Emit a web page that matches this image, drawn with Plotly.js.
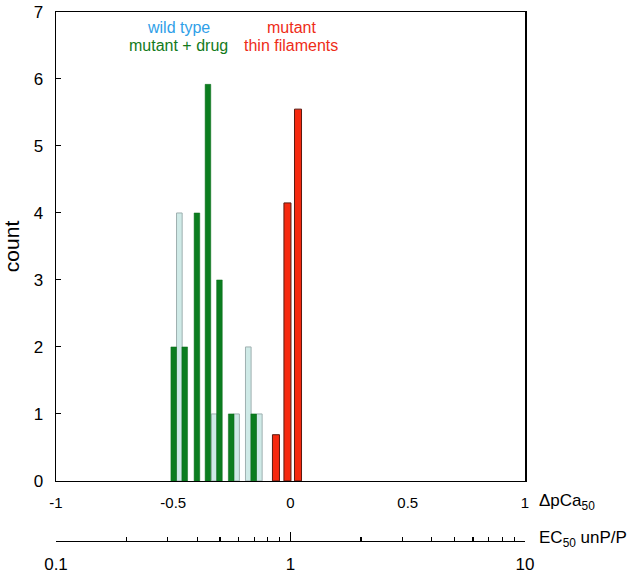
<!DOCTYPE html>
<html><head><meta charset="utf-8">
<script src="https://cdn.plot.ly/plotly-3.0.1.min.js"></script>
<style>html,body{margin:0;padding:0;background:#fff}</style>
</head><body>
<div id="chart" style="width:630px;height:581px"></div>
<script>
// Data
const greenX = [-0.498, -0.451, -0.399, -0.352, -0.303, -0.253, -0.157];
const greenY = [2, 2, 4, 5.92, 3, 1, 1];
const lightX = [-0.474, -0.326, -0.230, -0.180, -0.133];
const lightY = [4, 1, 1, 2, 1];
const redX = [-0.062, -0.013, 0.032];
const redY = [0.69, 4.15, 5.55];
const xTickVals = [-1, -0.5, 0, 0.5, 1];
const xTickText = ["-1", "-0.5", "0", "0.5", "1"];
const logMajor = [0.1, 1, 10];
const logMajorText = ["0.1", "1", "10"];
const logMinor = [0.2,0.3,0.4,0.5,0.6,0.7,0.8,0.9,2,3,4,5,6,7,8,9];

const font = "Liberation Sans, Arial, sans-serif";
const traces = [
  {type:'bar', x:lightX, y:lightY, width:0.024, marker:{color:'#cfeae7', line:{color:'#9fb0b0', width:1}}, showlegend:false},
  {type:'bar', x:greenX, y:greenY, width:0.024, marker:{color:'#0b7d1f', line:{color:'#0b6d1a', width:0.5}}, showlegend:false},
  {type:'bar', x:redX, y:redY, width:0.03, marker:{color:'#f5290f', line:{color:'#5a1a10', width:1}}, showlegend:false},
  // invisible helper trace so the secondary log axis is drawn
  {type:'scatter', mode:'markers', x:logMajor, y:logMajor.map(()=>0), xaxis:'x2', yaxis:'y',
   marker:{opacity:0, size:1}, hoverinfo:'skip', showlegend:false}
];
const layout = {
  width:630, height:581,
  margin:{l:56, r:105, t:12, b:30},
  paper_bgcolor:'#fff', plot_bgcolor:'#fff',
  barmode:'overlay', bargap:0,
  font:{family:font, color:'#000'},
  xaxis:{range:[-1,1], tickvals:xTickVals, ticktext:xTickText, ticks:'', showgrid:false, zeroline:false,
         showline:true, linewidth:1.5, linecolor:'#000', mirror:true, tickfont:{size:15}, ticklabelstandoff:8, fixedrange:true},
  xaxis2:{type:'log', range:[-1,1], overlaying:'x', anchor:'free', position:0.0186, side:'bottom',
          tickvals:logMajor, ticktext:logMajorText, ticks:'inside', ticklen:9, tickcolor:'#000', tickwidth:1.2,
          showline:true, linewidth:1.2, linecolor:'#000', showgrid:false, zeroline:false,
          tickfont:{size:17}, ticklabelstandoff:7,
          minor:{tickvals:logMinor, ticks:'inside', ticklen:4, tickcolor:'#000', tickwidth:1.2, showgrid:false}},
  yaxis:{range:[0,7], domain:[0.13,1], dtick:1, ticks:'inside', ticklen:5, tickcolor:'#000', showgrid:false, zeroline:false,
         showline:true, linewidth:1.5, linecolor:'#000', mirror:true, tickfont:{size:17}, ticklabelstandoff:8,
         title:{text:'count', font:{size:21}, standoff:8}},
  annotations:[
    {xref:'x', yref:'y', x:-0.476, y:6.776, text:'wild type', showarrow:false, font:{size:16, color:'#2fa0e8'}},
    {xref:'x', yref:'y', x:-0.476, y:6.507, text:'mutant + drug', showarrow:false, font:{size:16, color:'#137a1b'}},
    {xref:'x', yref:'y', x:0.004, y:6.776, text:'mutant', showarrow:false, font:{size:16, color:'#ee2c18'}},
    {xref:'x', yref:'y', x:0.004, y:6.507, text:'thin filaments', showarrow:false, font:{size:16, color:'#ee2c18'}},
    {xref:'paper', yref:'paper', x:1.025, y:0.0909, xanchor:'left', yanchor:'middle', text:'ΔpCa<sub>50</sub>', showarrow:false, font:{size:17}},
    {xref:'paper', yref:'paper', x:1.025, y:0.022, xanchor:'left', yanchor:'middle', text:'EC<sub>50</sub> unP/P', showarrow:false, font:{size:17}}
  ]
};
Plotly.newPlot('chart', traces, layout, {displayModeBar:false, staticPlot:true});
</script>
</body></html>
